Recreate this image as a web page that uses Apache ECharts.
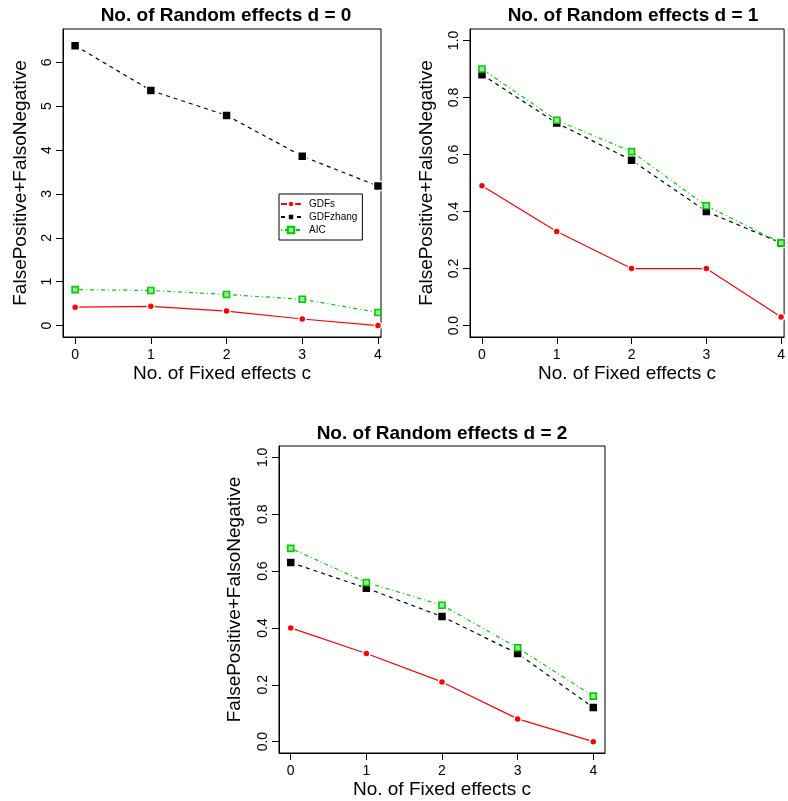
<!DOCTYPE html>
<html>
<head>
<meta charset="utf-8">
<script src="https://cdn.jsdelivr.net/npm/echarts@6/dist/echarts.min.js"></script>
<style>
    html, body { margin: 0; padding: 0; background: #fff; }
    #chart { width: 788px; height: 801px; }
</style>
</head>
<body>
<div id="chart"></div>
<script>
    // x values: number of fixed effects c
    var fixedEffects = [0, 1, 2, 3, 4]

    // d = 0
    var gdfsD0 = [0.42, 0.44, 0.33, 0.15, 0.00]
    var zhangD0 = [6.38, 5.36, 4.79, 3.86, 3.18]
    var aicD0 = [0.82, 0.80, 0.71, 0.60, 0.30]

    // d = 1
    var gdfsD1 = [0.49, 0.33, 0.20, 0.20, 0.03]
    var zhangD1 = [0.88, 0.71, 0.58, 0.40, 0.29]
    var aicD1 = [0.90, 0.72, 0.61, 0.42, 0.29]

    // d = 2
    var gdfsD2 = [0.40, 0.31, 0.21, 0.08, 0.00]
    var zhangD2 = [0.63, 0.54, 0.44, 0.31, 0.12]
    var aicD2 = [0.68, 0.56, 0.48, 0.33, 0.16]

    var yTicksD0 = [0, 1, 2, 3, 4, 5, 6]
    var yTicksProb = [0, 0.2, 0.4, 0.6, 0.8, 1.0]
    var titles = ['No. of Random effects d = 0', 'No. of Random effects d = 1', 'No. of Random effects d = 2']

    var FONT = 'Liberation Sans, Arial, Helvetica, sans-serif'

    function pairs(ys) {
        return fixedEffects.map(function (x, i) { return [x, ys[i]] })
    }

    function xAxis(idx, min, max) {
        return {
            type: 'value', gridIndex: idx, min: min, max: max,
            name: 'No. of Fixed effects c', nameLocation: 'middle', nameGap: 27,
            nameTextStyle: { fontFamily: FONT, fontSize: 19, color: '#000' },
            axisLine: { show: true, onZero: false, lineStyle: { color: '#000', width: 1 } },
            axisTick: { show: true, length: 7, customValues: fixedEffects, lineStyle: { color: '#000' } },
            axisLabel: { customValues: fixedEffects, margin: 11, fontFamily: FONT, fontSize: 14, color: '#000' },
            splitLine: { show: false }
        }
    }

    function yAxis(idx, min, max, ticks, fmt, gap) {
        return {
            type: 'value', gridIndex: idx, min: min, max: max,
            name: 'FalsePositive+FalsoNegative', nameLocation: 'middle', nameGap: gap,
            nameTextStyle: { fontFamily: FONT, fontSize: 19, color: '#000' },
            axisLine: { show: true, onZero: false, lineStyle: { color: '#000', width: 1 } },
            axisTick: { show: true, length: 7, customValues: ticks, lineStyle: { color: '#000' } },
            axisLabel: {
                customValues: ticks, rotate: 90, margin: 9, fontFamily: FONT, fontSize: 14, color: '#000',
                formatter: function (v) { return fmt ? v.toFixed(1) : String(v) }
            },
            splitLine: { show: false }
        }
    }

    function seriesFor(idx, gdfs, zhang, aic) {
        return [
            {
                name: 'GDFs', type: 'line', xAxisIndex: idx, yAxisIndex: idx, data: pairs(gdfs),
                symbol: 'circle', symbolSize: 7,
                itemStyle: { color: '#ff0000', borderColor: '#fff', borderWidth: 1.5 },
                lineStyle: { color: '#ff0000', width: 1.2, type: 'solid' }
            },
            {
                name: 'GDFzhang', type: 'line', xAxisIndex: idx, yAxisIndex: idx, data: pairs(zhang),
                symbol: 'rect', symbolSize: 9,
                itemStyle: { color: '#000', borderColor: '#fff', borderWidth: 1.5 },
                lineStyle: { color: '#000', width: 1.2, type: [4, 4] }
            },
            {
                name: 'AIC', type: 'line', xAxisIndex: idx, yAxisIndex: idx, data: pairs(aic),
                symbol: 'rect', symbolSize: 6,
                itemStyle: { color: '#9be89b', borderColor: '#00cd00', borderWidth: 1.6 },
                lineStyle: { color: '#00cd00', width: 1.2, type: [1, 3, 4, 3] }
            }
        ]
    }

    var myChart = echarts.init(document.getElementById('chart'), null, { renderer: 'canvas' })

    var titleStyle = { fontFamily: FONT, fontSize: 19, fontWeight: 'bold', color: '#000' }

    var option = {
        animation: false,
        backgroundColor: '#fff',
        title: [
            { text: titles[0], left: 226, top: 6, textAlign: 'center', padding: 0, textStyle: titleStyle },
            { text: titles[1], left: 633, top: 6, textAlign: 'center', padding: 0, textStyle: titleStyle },
            { text: titles[2], left: 442, top: 424, textAlign: 'center', padding: 0, textStyle: titleStyle }
        ],
        legend: {
            data: ['GDFs', 'GDFzhang', 'AIC'],
            orient: 'vertical',
            left: 279, top: 194,
            padding: [5, 5, 5, 1],
            itemWidth: 20, itemHeight: 8, itemGap: 3,
            borderColor: '#000', borderWidth: 1, borderRadius: 0,
            backgroundColor: '#fff',
            textStyle: { fontFamily: FONT, fontSize: 10, color: '#000', padding: [0, 0, 0, 3] }
        },
        grid: [
            { left: 63, top: 29, width: 318, height: 308, show: true, borderColor: '#000', borderWidth: 1, backgroundColor: 'transparent' },
            { left: 470, top: 29, width: 318, height: 308, show: true, borderColor: '#000', borderWidth: 1, backgroundColor: 'transparent' },
            { left: 279, top: 446, width: 326, height: 307, show: true, borderColor: '#000', borderWidth: 1, backgroundColor: 'transparent' }
        ],
        xAxis: [
            xAxis(0, -0.16, 4.04),
            xAxis(1, -0.16, 4.04),
            xAxis(2, -0.155, 4.155)
        ],
        yAxis: [
            yAxis(0, -0.26, 6.76, yTicksD0, false, 33),
            yAxis(1, -0.04, 1.04, yTicksProb, true, 34),
            yAxis(2, -0.04, 1.04, yTicksProb, true, 35)
        ],
        series: [].concat(
            seriesFor(0, gdfsD0, zhangD0, aicD0),
            seriesFor(1, gdfsD1, zhangD1, aicD1),
            seriesFor(2, gdfsD2, zhangD2, aicD2)
        )
    }
    myChart.setOption(option)
</script>
</body>
</html>
